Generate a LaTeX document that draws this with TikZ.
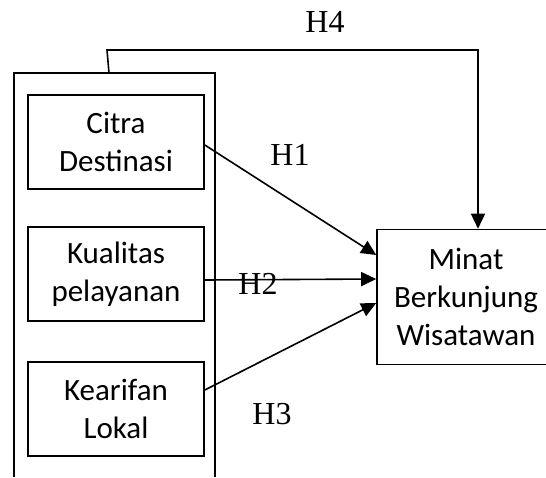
\documentclass[tikz,border=0pt]{standalone}
\usepackage{fontspec}
\setmainfont{Carlito}
\newfontfamily\hlabelfont{Liberation Serif}
\usetikzlibrary{arrows.meta,positioning}

\tikzset{
	varbox/.style={draw,line width=1.6pt,minimum width=176pt,minimum height=94pt,align=center,
		font=\fontsize{31}{38}\selectfont},
	hyp/.style={font=\hlabelfont\fontsize{32}{36}\selectfont},
	link/.style={line width=1.6pt,-{Triangle[length=15pt,width=14pt]}}
}

\begin{document}
\begin{tikzpicture}[x=1pt,y=-1pt,node distance=2cm,on grid]
	\useasboundingbox (0,0) rectangle (546,477);
	\node[varbox] (citra) at (116,142) {Citra\\Destinasi};
	\node[varbox] (kualitas) [below=132pt of citra] {Kualitas\\pelayanan};
	\node[varbox] (kearifan) [below=135pt of kualitas] {Kearifan\\Lokal};
	\node[varbox,minimum width=178pt,minimum height=135pt] (minat) at (466,297) {Minat\\Berkunjung\\Wisatawan};
	% kotak variabel bebas
	\draw[line width=1.6pt] (14,477) -- (14,73) -- (215,73) -- (215,477);
	\coordinate (grp) at (109,73);
	\coordinate (h4top) at (107,50);
	\draw[link] (grp) -- (h4top) -| ([xshift=12pt]minat.north);
	\path[link]
	([yshift=-3pt]citra.east) edge ([yshift=42pt]minat.west)
	([yshift=-6pt]kualitas.east) edge ([yshift=18pt]minat.west)
	([yshift=19pt]kearifan.east) edge ([yshift=-6pt]minat.west);
	\node[hyp] (h1) at (290,155) {H1};
	\node[hyp] (h2) at (258,284) {H2};
	\node[hyp] (h3) at (272,414) {H3};
	\node[hyp] (h4) at (325,22) {H4};
\end{tikzpicture}
\end{document}
